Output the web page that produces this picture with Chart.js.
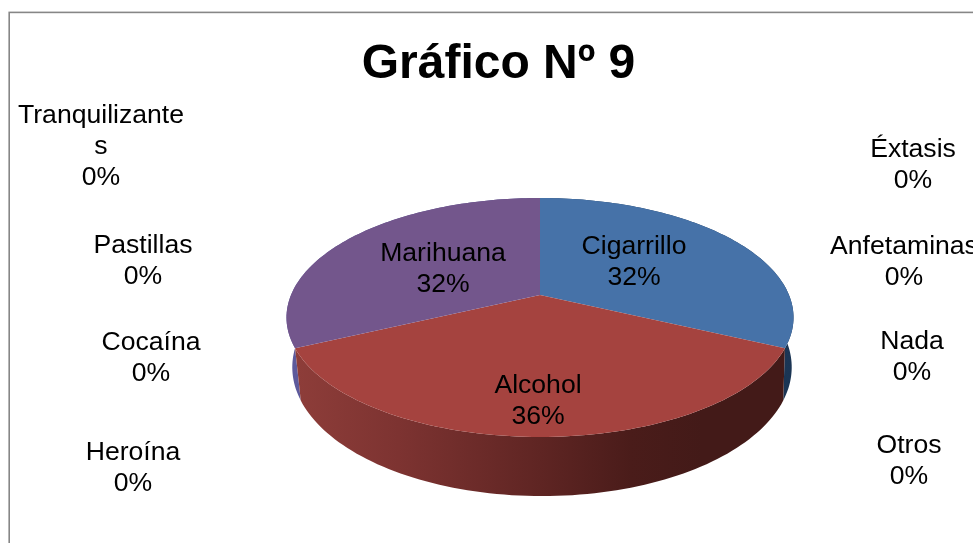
<!DOCTYPE html>
<html>
<head>
<meta charset="utf-8">
<title>Gráfico Nº 9</title>
<script src="https://cdn.jsdelivr.net/npm/chart.js@4"></script>
<style>
    html, body { margin: 0; padding: 0; background: #fff; overflow: hidden; width: 973px; height: 543px; }
    canvas { display: block; }
</style>
</head>
<body>
<canvas id="pieChart" width="997" height="543"></canvas>
<script>
const categories = ['Cigarrillo', 'Alcohol', 'Marihuana', 'Heroína', 'Cocaína', 'Pastillas', 'Tranquilizantes', 'Éxtasis', 'Anfetaminas', 'Nada', 'Otros'];
const percents = [32, 36, 32, 0, 0, 0, 0, 0, 0, 0, 0];
const sliceColors = ['#4672a8', '#a5433f', '#73568c', '#4672a8', '#a5433f', '#73568c', '#4672a8', '#a5433f', '#73568c', '#4672a8', '#a5433f'];

// where each label sits: centre x and y of its first line, same order as categories
const labelSpots = [[634, 247], [538, 386], [443, 254], [133, 453], [151, 343], [143, 246], [101, 116], [913, 150], [904, 247], [912, 342], [909, 446]];

// perspective of the pie top: apex, half sizes and tilt
const apexX = 540, apexY = 295, sizeX = 249, sizeY = 115.3, tilt = -0.188;
const depth = 48, bottomShrink = 0.985, bottomShift = 2;

function topPoint(angle) {
    const u = Math.cos(angle), v = Math.sin(angle);
    const w = 1 + tilt * v;
    return { x: apexX + sizeX * u / w, y: apexY + sizeY * v / w, w };
}

function bottomPoint(angle) {
    const p = topPoint(angle);
    return { x: apexX + bottomShift + (p.x - apexX) * bottomShrink, y: p.y + depth / p.w };
}

function sideFill(ctx, index) {
    const g = ctx.createLinearGradient(287, 0, 793, 0);
    if (index === 1) {
        g.addColorStop(0, '#8f3e3a');
        g.addColorStop(0.22, '#7d3331');
        g.addColorStop(0.5, '#5f2523');
        g.addColorStop(0.68, '#4a1c1a');
        g.addColorStop(0.82, '#431a18');
        g.addColorStop(1, '#431a18');
    } else if (index === 2) {
        g.addColorStop(0, '#5d5a9c');
        g.addColorStop(1, '#4a4680');
    } else {
        g.addColorStop(0, '#2a4f7c');
        g.addColorStop(1, '#1b3554');
    }
    return g;
}

const pie3d = {
    id: 'pie3d',
    beforeDraw(chart) {
        const ctx = chart.ctx;
        ctx.save();
        ctx.strokeStyle = '#868686';
        ctx.lineWidth = 1.6;
        ctx.strokeRect(9.2, 12.4, 1200, 900);
        ctx.restore();
    },
    beforeDatasetDraw(chart) {
        const ctx = chart.ctx;
        const arcs = chart.getDatasetMeta(0).data;
        const steps = 90;
        ctx.save();
        // walls first, back ones then the big front one
        [0, 2, 1].forEach(i => {
            const a = arcs[i];
            ctx.beginPath();
            for (let s = 0; s <= steps; s++) {
                const p = topPoint(a.startAngle + (a.endAngle - a.startAngle) * s / steps);
                if (s === 0) ctx.moveTo(p.x, p.y); else ctx.lineTo(p.x, p.y);
            }
            for (let s = steps; s >= 0; s--) {
                const p = bottomPoint(a.startAngle + (a.endAngle - a.startAngle) * s / steps);
                ctx.lineTo(p.x, p.y);
            }
            ctx.closePath();
            ctx.fillStyle = sideFill(ctx, i);
            ctx.fill();
        });
        arcs.forEach((a, i) => {
            if (percents[i] === 0) return;
            ctx.beginPath();
            ctx.moveTo(apexX, apexY);
            for (let s = 0; s <= steps; s++) {
                const p = topPoint(a.startAngle + (a.endAngle - a.startAngle) * s / steps);
                ctx.lineTo(p.x, p.y);
            }
            ctx.closePath();
            ctx.fillStyle = sliceColors[i];
            ctx.fill();
        });
        ctx.restore();
        return false;
    },
    afterDatasetsDraw(chart) {
        const ctx = chart.ctx;
        ctx.save();
        ctx.font = '26.6px "Liberation Sans"';
        ctx.fillStyle = '#000';
        ctx.textAlign = 'center';
        ctx.textBaseline = 'middle';
        categories.forEach((name, i) => {
            const lines = [];
            // the long name wraps inside its label box
            if (name.length > 14) lines.push(name.slice(0, 14), name.slice(14)); else lines.push(name);
            lines.push(percents[i] + '%');
            lines.forEach((line, n) => ctx.fillText(line, labelSpots[i][0], labelSpots[i][1] + n * 30.7));
        });
        ctx.restore();
    }
};

new Chart(document.getElementById('pieChart'), {
    type: 'pie',
    data: {
        labels: categories,
        datasets: [{ data: percents, backgroundColor: sliceColors, borderWidth: 0 }]
    },
    options: {
        responsive: false,
        animation: false,
        events: [],
        plugins: {
            legend: { display: false },
            tooltip: { enabled: false },
            title: {
                display: true,
                text: 'Gráfico Nº 9',
                color: '#000',
                font: { family: '"Liberation Sans"', size: 48, weight: 'bold' },
                padding: { top: 36, bottom: 10 }
            }
        }
    },
    plugins: [pie3d]
});
</script>
</body>
</html>
